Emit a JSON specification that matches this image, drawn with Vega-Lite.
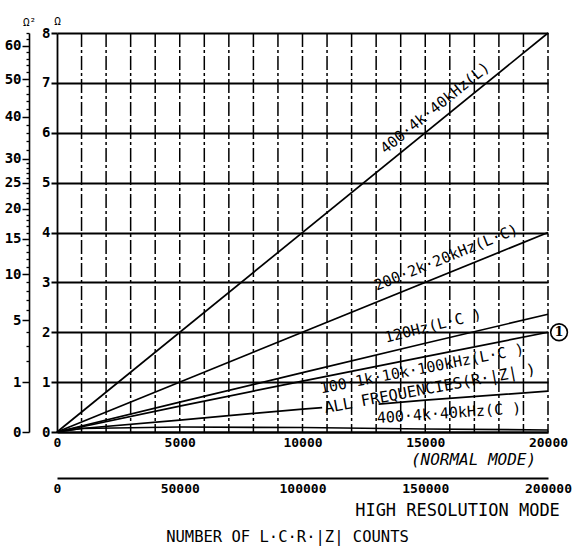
{
  "$schema": "https://vega.github.io/schema/vega-lite/v6.json",
  "width": 491,
  "height": 399,
  "autosize": {"type": "none"},
  "padding": {"left": 57, "top": 33, "right": 25, "bottom": 115},
  "background": "white",
  "title": {"text": "NUMBER OF L·C·R·|Z| COUNTS", "orient": "bottom", "frame": "group", "anchor": "middle", "offset": 12, "dx": -15, "fontSize": 15.5, "fontWeight": "normal", "font": "DejaVu Sans Mono", "color": "black"},
  "config": {
    "view": {"stroke": null},
    "font": "DejaVu Sans Mono",
    "axis": {"labelColor": "black", "titleColor": "black", "domainColor": "black", "tickColor": "black", "labelFont": "DejaVu Sans Mono", "titleFont": "DejaVu Sans Mono", "labelOverlap": false, "labelBound": false}
  },
  "datasets": {
    "vgrid": [{"x": 1000}, {"x": 2000}, {"x": 3000}, {"x": 4000}, {"x": 5000}, {"x": 6000}, {"x": 7000}, {"x": 8000}, {"x": 9000}, {"x": 10000}, {"x": 11000}, {"x": 12000}, {"x": 13000}, {"x": 14000}, {"x": 15000}, {"x": 16000}, {"x": 17000}, {"x": 18000}, {"x": 19000}, {"x": 20000}],
    "lines": [
      {"series": "L", "x": 0, "y": 0}, {"series": "L", "x": 20000, "y": 8},
      {"series": "200", "x": 0, "y": 0}, {"series": "200", "x": 20000, "y": 4},
      {"series": "120", "x": 0, "y": 0}, {"series": "120", "x": 5000, "y": 0.6}, {"series": "120", "x": 10000, "y": 1.19}, {"series": "120", "x": 15000, "y": 1.78}, {"series": "120", "x": 20000, "y": 2.36},
      {"series": "100", "x": 0, "y": 0}, {"series": "100", "x": 5000, "y": 0.52}, {"series": "100", "x": 10000, "y": 1.02}, {"series": "100", "x": 15000, "y": 1.51}, {"series": "100", "x": 20000, "y": 2.0},
      {"series": "ALLa", "x": 0, "y": 0}, {"series": "ALLa", "x": 1000, "y": 0.07}, {"series": "ALLa", "x": 5000, "y": 0.24}, {"series": "ALLa", "x": 10000, "y": 0.46}, {"series": "ALLa", "x": 10800, "y": 0.49},
      {"series": "ALLb", "x": 13100, "y": 0.56}, {"series": "ALLb", "x": 15000, "y": 0.64}, {"series": "ALLb", "x": 20000, "y": 0.82},
      {"series": "C", "x": 0, "y": 0}, {"series": "C", "x": 1000, "y": 0.07}, {"series": "C", "x": 5000, "y": 0.1}, {"series": "C", "x": 10000, "y": 0.09}, {"series": "C", "x": 15000, "y": 0.06}, {"series": "C", "x": 20000, "y": 0.04}
    ],
    "labels": [
      {"id": "L", "text": "400·4k·40kHz(L)", "x": 15397, "y": 6.5},
      {"id": "200", "text": "200·2k·20kHz(L·C)", "x": 15845, "y": 3.5},
      {"id": "120", "text": "120Hz(L·C )", "x": 15316, "y": 2.13},
      {"id": "100", "text": "100·1k·10k·100kHz(L·C )", "x": 14868, "y": 1.27},
      {"id": "ALL", "text": "ALL FREQUENCIES(R·|Z| )", "x": 15193, "y": 0.87},
      {"id": "C", "text": "400·4k·40kHz(C )", "x": 15967, "y": 0.38}
    ],
    "marker": [{"x": 20450, "y": 2.0, "text": "1"}],
    "ohm2": [{"v": 0}, {"v": 64}],
    "hires": [{"h": 0}, {"h": 200000}]
  },
  "layer": [
    {
      "layer": [
        {
          "data": {"name": "lines"},
          "mark": {"type": "line", "color": "black", "strokeWidth": 1.7},
          "encoding": {
            "x": {"field": "x", "type": "quantitative", "scale": {"domain": [0, 20000], "nice": false},
              "axis": {"orient": "bottom", "values": [0, 5000, 10000, 15000, 20000], "format": "d", "labelOverlap": false,
                "grid": false, "ticks": false, "domainWidth": 2.2, "labelFontSize": 13, "labelFontWeight": "bold", "labelPadding": 4, "labelFlush": false,
                "title": "(NORMAL MODE)", "titleX": 416, "titleY": 27, "titleAlign": "center", "titleBaseline": "middle", "titleFontSize": 16, "titleFontStyle": "italic", "titleFontWeight": "normal"}},
            "y": {"field": "y", "type": "quantitative", "scale": {"domain": [0, 8], "nice": false},
              "axis": {"orient": "left", "values": [0,1,2,3,4,5,6,7,8], "labelOverlap": false, "grid": true, "gridColor": "black", "gridWidth": 2, "gridOpacity": 1,
                "tickSize": 6, "tickWidth": 2, "domainWidth": 1.8, "labelFontSize": 14, "labelFontWeight": "bold", "labelPadding": 1,
                "title": "Ω", "titleAngle": 0, "titleX": 0, "titleY": -12, "titleFontSize": 11, "titleFontWeight": "normal", "titleAlign": "center", "titleBaseline": "middle"}},
            "detail": {"field": "series"}
          }
        },
        {"data": {"name": "vgrid"}, "mark": {"type": "rule", "color": "black", "strokeWidth": 1.5, "strokeDash": [14, 3, 3, 3]}, "encoding": {"x": {"field": "x", "type": "quantitative"}}},
        {"data": {"name": "labels"}, "transform": [{"filter": "datum.id == 'L'"}], "mark": {"type": "text", "angle": 321, "fontSize": 15, "color": "black", "font": "DejaVu Sans Mono"}, "encoding": {"x": {"field": "x", "type": "quantitative"}, "y": {"field": "y", "type": "quantitative"}, "text": {"field": "text"}}},
        {"data": {"name": "labels"}, "transform": [{"filter": "datum.id == '200'"}], "mark": {"type": "text", "angle": 338, "fontSize": 15, "color": "black", "font": "DejaVu Sans Mono"}, "encoding": {"x": {"field": "x", "type": "quantitative"}, "y": {"field": "y", "type": "quantitative"}, "text": {"field": "text"}}},
        {"data": {"name": "labels"}, "transform": [{"filter": "datum.id == '120'"}], "mark": {"type": "text", "angle": 346, "fontSize": 15, "color": "black", "font": "DejaVu Sans Mono"}, "encoding": {"x": {"field": "x", "type": "quantitative"}, "y": {"field": "y", "type": "quantitative"}, "text": {"field": "text"}}},
        {"data": {"name": "labels"}, "transform": [{"filter": "datum.id == '100'"}], "mark": {"type": "text", "angle": 349, "fontSize": 15, "color": "black", "font": "DejaVu Sans Mono"}, "encoding": {"x": {"field": "x", "type": "quantitative"}, "y": {"field": "y", "type": "quantitative"}, "text": {"field": "text"}}},
        {"data": {"name": "labels"}, "transform": [{"filter": "datum.id == 'ALL'"}], "mark": {"type": "text", "angle": 349.5, "fontSize": 15.5, "color": "black", "font": "DejaVu Sans Mono"}, "encoding": {"x": {"field": "x", "type": "quantitative"}, "y": {"field": "y", "type": "quantitative"}, "text": {"field": "text"}}},
        {"data": {"name": "labels"}, "transform": [{"filter": "datum.id == 'C'"}], "mark": {"type": "text", "angle": 356, "fontSize": 15, "color": "black", "font": "DejaVu Sans Mono"}, "encoding": {"x": {"field": "x", "type": "quantitative"}, "y": {"field": "y", "type": "quantitative"}, "text": {"field": "text"}}},
        {"data": {"name": "marker"}, "mark": {"type": "point", "shape": "circle", "size": 280, "filled": false, "stroke": "black", "strokeWidth": 1.6, "opacity": 1}, "encoding": {"x": {"field": "x", "type": "quantitative"}, "y": {"field": "y", "type": "quantitative"}}},
        {"data": {"name": "marker"}, "mark": {"type": "text", "fontSize": 13, "fontWeight": "bold", "color": "black", "font": "DejaVu Serif"}, "encoding": {"x": {"field": "x", "type": "quantitative"}, "y": {"field": "y", "type": "quantitative"}, "text": {"field": "text"}}}
      ]
    },
    {
      "data": {"name": "ohm2"},
      "mark": {"type": "point", "opacity": 0},
      "encoding": {
        "y": {"field": "v", "type": "quantitative", "scale": {"type": "sqrt", "domain": [0, 64], "nice": false},
          "axis": {"orient": "left", "offset": 28, "values": [0,1,5,10,15,20,25,30,40,50,60], "labelOverlap": false, "grid": false, "tickSize": 7, "tickWidth": 1.5, "domainWidth": 1.6,
            "labelFontSize": 14, "labelFontWeight": "bold", "labelPadding": 1,
            "title": "Ω²", "titleAngle": 0, "titleX": 0, "titleY": -11, "titleFontSize": 11, "titleFontWeight": "normal", "titleAlign": "center", "titleBaseline": "middle"}}
      }
    },
    {
      "data": {"name": "ohm2"},
      "mark": {"type": "point", "opacity": 0},
      "encoding": {
        "y": {"field": "v", "type": "quantitative", "scale": {"type": "sqrt", "domain": [0, 64], "nice": false},
          "axis": {"orient": "left", "offset": 28, "values": [2,3,4,6,7,8,9,11,12,13,14,16,17,18,19,21,22,23,24,26,27,28,29,32,34,36,38,42,44,46,48,52,54,56,58,62,64], "grid": false, "tickSize": 3, "tickWidth": 1.3, "domain": false, "labels": false, "title": null}}
      }
    },
    {
      "data": {"name": "hires"},
      "mark": {"type": "point", "opacity": 0},
      "encoding": {
        "x": {"field": "h", "type": "quantitative", "scale": {"domain": [0, 200000], "nice": false},
          "axis": {"orient": "bottom", "offset": 46, "values": [0, 50000, 100000, 150000, 200000], "format": "d", "labelOverlap": false, "grid": false, "ticks": false, "domainWidth": 2.2,
            "labelFontSize": 13, "labelFontWeight": "bold", "labelPadding": 4, "labelFlush": false,
            "title": "HIGH RESOLUTION MODE", "titleX": 400, "titleY": 32, "titleAlign": "center", "titleBaseline": "middle", "titleFontSize": 17, "titleFontWeight": "normal"}}
      }
    }
  ],
  "resolve": {"scale": {"x": "independent", "y": "independent"}}
}
